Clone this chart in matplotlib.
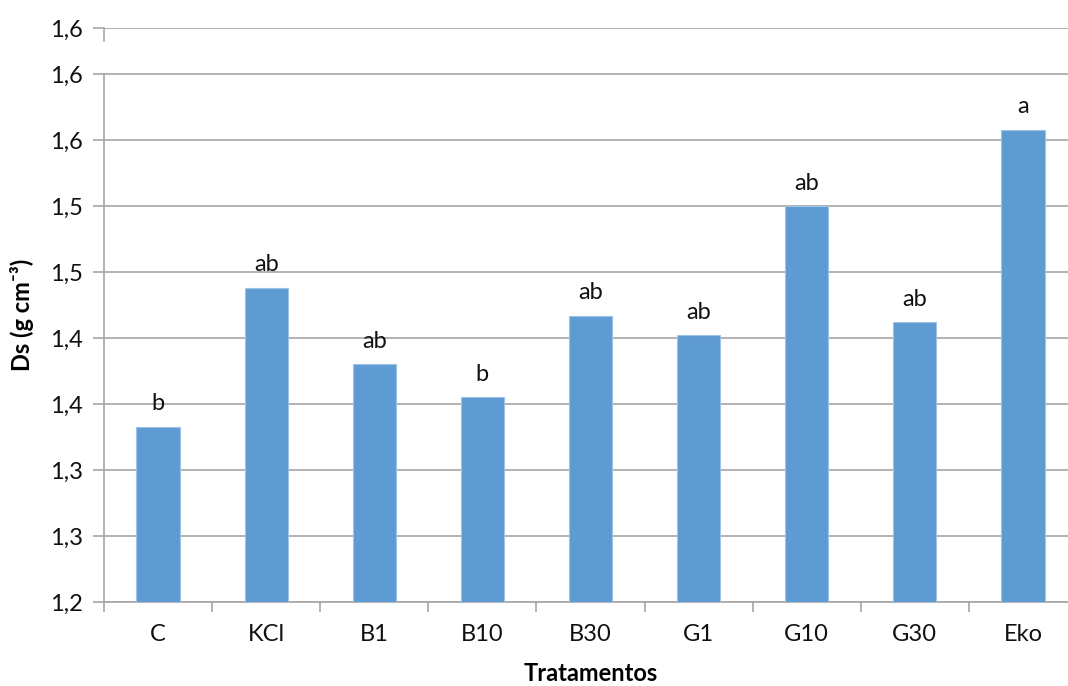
import matplotlib.pyplot as plt
import numpy as np

categories = ["C", "KCl", "B1", "B10", "B30", "G1", "G10", "G30", "Eko"]
values = [1.333, 1.438, 1.380, 1.355, 1.417, 1.402, 1.500, 1.412, 1.558]
letters = ["b", "ab", "ab", "b", "ab", "ab", "ab", "ab", "a"]
ytick_vals = [1.20, 1.25, 1.30, 1.35, 1.40, 1.45, 1.50, 1.55, 1.60, 1.635]
ytick_labels = ["1,2", "1,3", "1,3", "1,4", "1,4", "1,5", "1,5", "1,6", "1,6", "1,6"]

plt.rcParams['font.family'] = ['Lato', 'DejaVu Sans']

fig = plt.figure(figsize=(10.68, 6.86), dpi=100)
ax = fig.add_axes([0.0974, 0.1224, 0.9110, 0.8368])

x = np.arange(len(categories))
ax.bar(x, values, width=0.4, bottom=0, color="#5F9BD3", edgecolor="#9DC3E6",
       linewidth=0.8, zorder=3)
ax.set_xlim(-0.5, len(categories) - 0.5)
ax.set_ylim(1.20, 1.635)

for xi, v, t in zip(x, values, letters):
    ax.annotate(t, (xi, v), xytext=(0, 9), textcoords="offset points",
                ha="center", va="bottom", fontsize=17, color="#111111")

ax.set_yticks(ytick_vals)
ax.set_yticklabels(ytick_labels)
ax.yaxis.grid(True, color="#A6A6A6", linewidth=1.2, zorder=0)
ax.tick_params(axis="y", length=8, width=1.2, color="#A6A6A6", labelsize=17,
               pad=7, labelcolor="#111111")

ax.set_xticks(x)
ax.set_xticklabels(categories)
ax.set_xticks(np.arange(len(categories) + 1) - 0.5, minor=True)
ax.tick_params(axis="x", which="major", length=0, labelsize=17, pad=16,
               labelcolor="#111111")
ax.tick_params(axis="x", which="minor", length=7, width=1.2, color="#A6A6A6")

for s in ["top", "right"]:
    ax.spines[s].set_visible(False)
ax.spines["bottom"].set_color("#A6A6A6")
ax.spines["bottom"].set_linewidth(1.2)
ax.spines["left"].set_color("#A6A6A6")
ax.spines["left"].set_linewidth(1.2)
ax.spines["left"].set_bounds(1.20, 1.60)
ax.plot([-0.5, -0.5], [1.635, 1.625], color="#A6A6A6", linewidth=1.2,
        clip_on=False, zorder=4)

ax.set_xlabel("Tratamentos", fontsize=17, fontweight="bold", labelpad=12)
ax.set_ylabel("Ds (g cm⁻³)", fontsize=17, fontweight="bold", labelpad=12)

fig.savefig("out.png", dpi=100)
